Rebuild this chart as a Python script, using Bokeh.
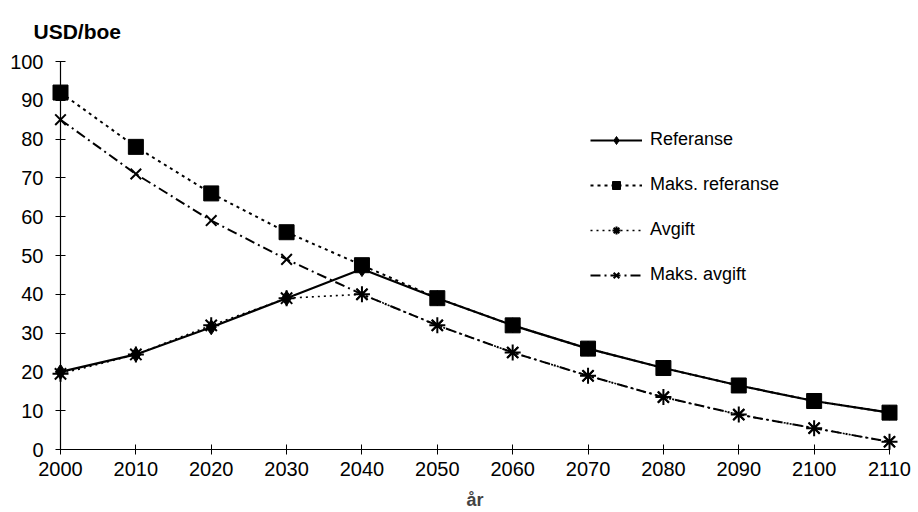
from bokeh.plotting import figure
from bokeh.models import Range1d, Legend, LegendItem, FixedTicker, Title
from bokeh.embed import file_html
from bokeh.resources import INLINE

years = [2000, 2010, 2020, 2030, 2040, 2050, 2060, 2070, 2080, 2090, 2100, 2110]
referanse = [20, 24.5, 31.5, 39, 46.5, 39, 32, 26, 21, 16.5, 12.5, 9.5]
maks_referanse = [92, 78, 66, 56, 47.5, 39, 32, 26, 21, 16.5, 12.5, 9.5]
avgift = [19.5, 24.5, 32, 39, 40, 32, 25, 19, 13.5, 9, 5.5, 2]
maks_avgift = [85, 71, 59, 49, 40, 32, 25, 19, 13.5, 9, 5.5, 2]
y_ticks = list(range(0, 101, 10))
x_ticks = years

FONT = "Liberation Sans"

title = Title(text="USD/boe", align="left", offset=-27, standoff=34, vertical_align="top",
              text_font=FONT, text_font_style="bold", text_font_size="21px",
              text_color="black")

p = figure(width=918, height=512, output_backend="svg", toolbar_location=None,
           x_range=Range1d(2000, 2110), y_range=Range1d(0, 100), title=title,
           min_border_left=60, min_border_right=29, min_border_top=61, min_border_bottom=63)
p.outline_line_color = None
p.xgrid.grid_line_color = None
p.ygrid.grid_line_color = None

for ax in (p.xaxis[0], p.yaxis[0]):
    ax.major_tick_in = 5
    ax.major_tick_out = 5
    ax.minor_tick_line_color = None
    ax.axis_line_color = "black"
    ax.axis_line_width = 1.2
    ax.major_tick_line_color = "black"
    ax.major_label_text_font = FONT
    ax.major_label_text_font_size = "20px"
    ax.major_label_text_color = "black"
p.xaxis.ticker = FixedTicker(ticks=x_ticks)
p.yaxis.ticker = FixedTicker(ticks=y_ticks)
p.xaxis.major_label_standoff = 7
p.yaxis.major_label_standoff = 12
p.xaxis.axis_label = "år"
p.xaxis.axis_label_text_font = FONT
p.xaxis.axis_label_text_font_style = "bold"
p.xaxis.axis_label_text_font_size = "18px"
p.xaxis.axis_label_standoff = 11

# series
l_ref = p.line(years, referanse, line_color="black", line_width=2.2)
m_ref = p.scatter(years, referanse, marker="diamond", size=15, fill_color="black",
                  line_color="black", level="overlay")
l_mref = p.line(years, maks_referanse, line_color="black", line_width=2, line_dash="3 4")
m_mref = p.scatter(years, maks_referanse, marker="square", size=15, fill_color="black",
                   line_color="black", level="overlay")
l_avg = p.line(years, avgift, line_color="black", line_width=1.6, line_dash="2 4")
m_avg = p.scatter(years, avgift, marker="asterisk", size=16, line_color="black",
                  line_width=2, level="overlay")
l_mavg = p.line(years, maks_avgift, line_color="black", line_width=2, line_dash="10 4 2 4")
m_mavg = p.scatter(years, maks_avgift, marker="x", size=15, line_color="black",
                   line_width=2, level="overlay")

legend = Legend(items=[
    LegendItem(label="Referanse", renderers=[l_ref, m_ref]),
    LegendItem(label="Maks. referanse", renderers=[l_mref, m_mref]),
    LegendItem(label="Avgift", renderers=[l_avg, m_avg]),
    LegendItem(label="Maks. avgift", renderers=[l_mavg, m_mavg]),
], location=(530, 164))
legend.border_line_color = None
legend.background_fill_alpha = 0
legend.padding = 0
legend.margin = 0
legend.spacing = 24
legend.glyph_height = 20
legend.glyph_width = 52
legend.label_height = 20
legend.label_standoff = 8
legend.label_text_font = FONT
legend.label_text_font_size = "18px"
legend.label_text_color = "black"
p.add_layout(legend)

open("out.html", "w").write(file_html(p, INLINE))
